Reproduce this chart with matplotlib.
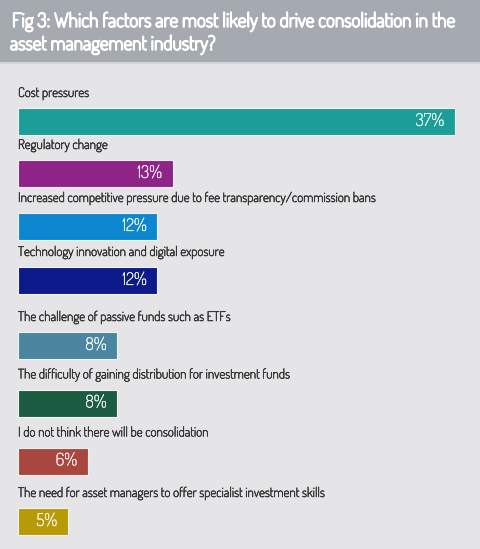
import matplotlib.pyplot as plt
import matplotlib.patheffects as pe
from matplotlib.patches import Rectangle

# data
categories = [
    "Cost pressures",
    "Regulatory change",
    "Increased competitive pressure due to fee transparency/commission bans",
    "Technology innovation and digital exposure",
    "The challenge of passive funds such as ETFs",
    "The difficulty of gaining distribution for investment funds",
    "I do not think there will be consolidation",
    "The need for asset managers to offer specialist investment skills",
]
values = [37, 13.1, 11.8, 11.8, 8.4, 8.4, 5.9, 4.2]
value_labels = ["37%", "13%", "12%", "12%", "8%", "8%", "6%", "5%"]
colors = ["#1b9e97", "#8e2388", "#0e87d1", "#0d1a89", "#4a86a0",
          "#1b5b41", "#a9473e", "#b69a06"]

# layout (pixel rows of bar centres)
row_y = [121.5, 173.5, 226.5, 280.5, 345.5, 403, 461, 521.5]
bar_h = 27
px_per_pct = 11.81

W, H = 480, 549
font = ["Dosis", "DejaVu Sans"]

def bold(lw, c):
    # Dosis only comes in a light cut here, thicken it a bit
    return [pe.withStroke(linewidth=lw, foreground=c)]

fig = plt.figure(figsize=(W / 100, H / 100), dpi=100)
fig.patch.set_facecolor("#e5e5e7")

# header band
fig.patches.append(Rectangle((0, 1 - 62 / H), 1, 62 / H, transform=fig.transFigure,
                             facecolor="#a5aab0", edgecolor="none", zorder=0))
fig.patches.append(Rectangle((0, 1 - 64 / H), 1, 2 / H, transform=fig.transFigure,
                             facecolor="#d2d4d7", edgecolor="none", zorder=0))
fig.text(12 / W, 1 - 22 / H, "Fig 3: Which factors are most likely to drive consolidation in the",
         color="white", fontsize=14, family=font, va="center", ha="left",
         path_effects=bold(1.1, "white"))
fig.text(10 / W, 1 - 45 / H, "asset management industry?",
         color="white", fontsize=14, family=font, va="center", ha="left",
         path_effects=bold(1.1, "white"))

ax = fig.add_axes([18 / W, 0, (W - 18) / W, 1])
ax.set_xlim(0, (W - 18) / px_per_pct)
ax.set_ylim(H, 0)
ax.axis("off")
ax.patch.set_alpha(0)

ax.barh(row_y, values, height=bar_h, left=0, color=colors,
        edgecolor="#f2f2f2", linewidth=0.8)

for y, cat, v, lab in zip(row_y, categories, values, value_labels):
    ax.text(0, y - 28, cat, fontsize=9.5, color="#363636", family=font,
            ha="left", va="center", path_effects=bold(0.4, "#363636"))
    ax.text(v - 0.9, y, lab, fontsize=12.5, color="white", family=font,
            ha="right", va="center", path_effects=bold(0.15, "white"))

fig.savefig("out.png", dpi=100, facecolor=fig.get_facecolor())
